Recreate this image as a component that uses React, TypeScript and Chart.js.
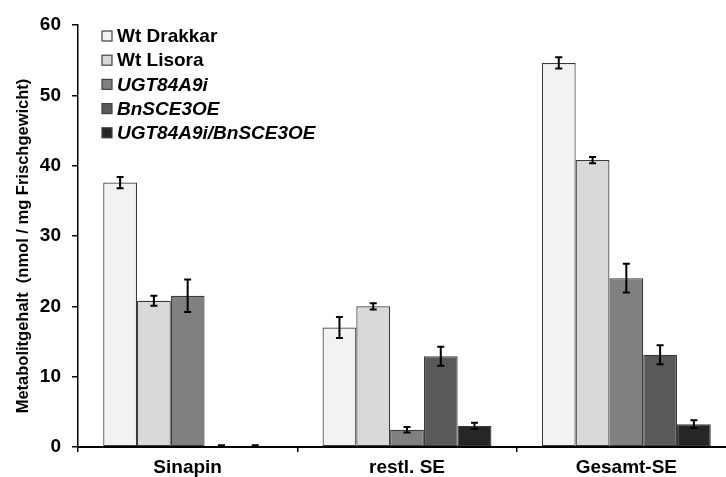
import React, { useEffect, useRef } from 'react';
import { Chart, registerables } from 'chart.js';

Chart.register(...registerables);

const categories = ['Sinapin', 'restl. SE', 'Gesamt-SE'];
const seriesNames = ['Wt Drakkar', 'Wt Lisora', 'UGT84A9i', 'BnSCE3OE', 'UGT84A9i/BnSCE3OE'];
const seriesItalic = [false, false, true, true, true];
const seriesColors = ['#f2f2f2', '#d9d9d9', '#808080', '#595959', '#262626'];
const yTitle = 'Metabolitgehalt  (nmol / mg Frischgewicht)';

const wtDrakkar = [37.6, 17.0, 54.6];
const wtDrakkarErr = [0.8, 1.5, 0.8];
const wtLisora = [20.8, 20.0, 40.8];
const wtLisoraErr = [0.7, 0.45, 0.45];
const ugt84a9i = [21.5, 2.45, 24.0];
const ugt84a9iErr = [2.3, 0.4, 2.05];
const bnsce3oe = [0.15, 12.9, 13.1];
const bnsce3oeErr = [0.1, 1.35, 1.35];
const ugtBnsce = [0.15, 3.0, 3.25];
const ugtBnsceErr = [0.1, 0.45, 0.55];

const yMin = 0;
const yMax = 60;
const yStep = 10;

const seriesValues = [wtDrakkar, wtLisora, ugt84a9i, bnsce3oe, ugtBnsce];
const seriesErrors = [wtDrakkarErr, wtLisoraErr, ugt84a9iErr, bnsce3oeErr, ugtBnsceErr];

const FONT = '"Liberation Sans", Arial, sans-serif';

const errorBarPlugin = {
  id: 'errorBars',
  afterDatasetsDraw(chart: any) {
    const ctx = chart.ctx;
    const yScale = chart.scales.y;
    ctx.save();
    ctx.strokeStyle = '#000';
    ctx.lineWidth = 2;
    chart.data.datasets.forEach((ds: any, i: number) => {
      const meta = chart.getDatasetMeta(i);
      const errs = seriesErrors[i];
      meta.data.forEach((bar: any, j: number) => {
        const v = ds.data[j];
        const e = errs[j];
        const x = bar.x;
        const yTop = yScale.getPixelForValue(v + e);
        const yBot = yScale.getPixelForValue(Math.max(0, v - e));
        const cap = 3.5;
        ctx.beginPath();
        ctx.moveTo(x, yTop);
        ctx.lineTo(x, yBot);
        ctx.moveTo(x - cap, yTop);
        ctx.lineTo(x + cap, yTop);
        ctx.moveTo(x - cap, yBot);
        ctx.lineTo(x + cap, yBot);
        ctx.stroke();
      });
    });
    ctx.restore();
  },
};

const legendPlugin = {
  id: 'customLegend',
  afterDraw(chart: any) {
    const ctx = chart.ctx;
    const x0 = 102;
    const y0 = 36;
    const step = 24.2;
    const box = 10;
    ctx.save();
    chart.data.datasets.forEach((ds: any, i: number) => {
      const cy = y0 + i * step;
      ctx.fillStyle = ds.backgroundColor;
      ctx.fillRect(x0, cy - box / 2, box, box);
      ctx.strokeStyle = '#404040';
      ctx.lineWidth = 1.2;
      ctx.strokeRect(x0, cy - box / 2, box, box);
      ctx.fillStyle = '#000';
      ctx.textBaseline = 'middle';
      ctx.textAlign = 'left';
      ctx.font = `${seriesItalic[i] ? 'italic ' : ''}bold 19px ${FONT}`;
      ctx.fillText(ds.label, x0 + 15, cy + 1);
    });
    // y-axis title
    ctx.save();
    ctx.translate(23, (chart.chartArea.top + chart.chartArea.bottom) / 2 + 10);
    ctx.rotate(-Math.PI / 2);
    ctx.textAlign = 'center';
    ctx.textBaseline = 'middle';
    ctx.font = `bold 16.5px ${FONT}`;
    ctx.fillStyle = '#000';
    ctx.fillText(yTitle, 0, 0);
    ctx.restore();
    ctx.restore();
  },
};

export default function App() {
  const ref = useRef<HTMLCanvasElement | null>(null);

  useEffect(() => {
    if (!ref.current) return;
    const chart = new Chart(ref.current, {
      type: 'bar',
      data: {
        labels: categories,
        datasets: seriesNames.map((name, i) => ({
          label: name,
          data: seriesValues[i],
          backgroundColor: seriesColors[i],
          borderColor: '#3a3a3a',
          borderWidth: 1.2,
          borderSkipped: false,
          categoryPercentage: 0.77,
          barPercentage: 1.0,
        })),
      },
      options: {
        animation: false,
        responsive: false,
        devicePixelRatio: 1,
        layout: { padding: { top: 25, right: 4, left: 0, bottom: 0 } },
        plugins: {
          legend: { display: false },
          tooltip: { enabled: false },
        },
        scales: {
          x: {
            type: 'category',
            offset: true,
            grid: {
              offset: true,
              drawOnChartArea: false,
              drawTicks: true,
              tickLength: 5,
              color: '#000',
              lineWidth: 1.5,
            },
            border: { display: true, color: '#000', width: 2 },
            ticks: {
              color: '#000',
              font: { family: FONT, size: 19, weight: 'bold' },
              padding: 4,
              maxRotation: 0,
            },
            afterFit(scale: any) {
              scale.height = 30;
            },
          },
          y: {
            min: yMin,
            max: yMax,
            ticks: {
              stepSize: yStep,
              color: '#000',
              font: { family: FONT, size: 19, weight: 'bold' },
              padding: 11,
            },
            grid: {
              drawOnChartArea: false,
              drawTicks: true,
              tickLength: 6,
              color: '#000',
              lineWidth: 1.5,
            },
            border: { display: true, color: '#000', width: 1.5 },
            afterFit(scale: any) {
              scale.width = 78;
            },
          },
        },
      },
      plugins: [errorBarPlugin, legendPlugin],
    });
    return () => chart.destroy();
  }, []);

  return (
    <div
      style={{
        position: 'absolute',
        left: 0,
        top: 0,
        width: 726,
        height: 477,
        overflow: 'hidden',
        background: '#fff',
      }}
    >
      <canvas ref={ref} width={740} height={477} style={{ width: 740, height: 477, display: 'block' }} />
    </div>
  );
}
